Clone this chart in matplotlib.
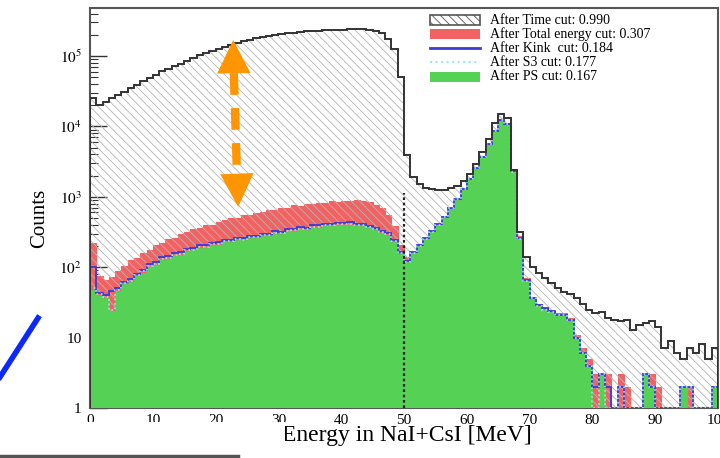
import numpy as np
import matplotlib
matplotlib.use("Agg")
import matplotlib.pyplot as plt
from matplotlib.patches import Rectangle
from matplotlib.lines import Line2D
from matplotlib.ticker import FuncFormatter, NullFormatter

plt.rcParams['font.family'] = ['Liberation Serif', 'DejaVu Serif']
plt.rcParams['mathtext.fontset'] = 'stix'
plt.rcParams['hatch.linewidth'] = 0.6

# %% Data: counts per 1 MeV bin, 0-100 MeV
bin_edges = np.arange(0, 101)

after_time = [25100, 19950, 22400, 25100, 27500, 30900, 34700, 38900, 43650, 47900,
              53700, 60300, 66100, 72400, 77600, 85100, 93300, 102300, 109600, 117500,
              125900, 134900, 144500, 154900, 162200, 169800, 177800, 186200, 195000, 199500,
              204200, 208900, 213800, 218800, 223900, 226500, 229100, 231700, 234400, 234400,
              237100, 239900, 239900, 239900, 237100, 229100, 208900, 173800, 125900, 50100,
              3980, 1905, 1514, 1349, 1288, 1259, 1259, 1318, 1445, 1698,
              2138, 2951, 4266, 6607, 11000, 15100, 13200, 2400, 316, 141,
              100, 83, 71, 59, 50, 45, 42, 36, 30, 25,
              22, 23, 19, 18, 17, 18, 13, 15, 16, 17,
              14, 7, 9, 6, 5, 7, 6, 8, 5, 7]

after_total_energy = [219, 74, 66, 72, 88, 104, 125, 135, 161, 175,
                      204, 220, 249, 258, 292, 311, 344, 357, 395, 402,
                      443, 461, 497, 506, 545, 555, 598, 610, 640, 652,
                      700, 698, 752, 750, 790, 785, 825, 820, 860, 850,
                      880, 872, 895, 868, 840, 770, 700, 545, 385, 205,
                      140, 165, 208, 260, 326, 410, 527, 693, 935, 1290,
                      1820, 2570, 3715, 5620, 8710, 12600, 11200, 2350, 275, 70,
                      38, 30, 26, 24, 22, 22, 19, 11, 7, 5,
                      3, 3, 3, 1, 3, 2, 1, 1, 3, 3,
                      2, 1, 1, 1, 2, 2, 1, 1, 1, 2]

after_kink = [102, 43, 40, 46, 50, 61, 67, 81, 90, 110,
              117, 138, 142, 158, 162, 182, 186, 205, 204, 224,
              225, 246, 245, 263, 258, 281, 276, 295, 297, 322,
              318, 345, 349, 370, 366, 395, 392, 413, 411, 423,
              422, 432, 412, 410, 384, 366, 326, 305, 247, 166,
              122, 162, 205, 257, 323, 406, 523, 689, 930, 1283,
              1812, 2560, 3700, 5600, 8670, 12250, 10930, 2290, 262, 66,
              37, 29, 26, 24, 21, 21, 18, 10, 6, 4,
              2, 3, 2, 1, 2, 1, 1, 1, 3, 2,
              1, 1, 1, 1, 2, 2, 1, 1, 1, 2]

after_s3 = [50, 41, 38, 25, 48, 59, 64, 77, 87, 105,
            112, 132, 136, 151, 155, 174, 178, 196, 196, 214,
            215, 236, 235, 252, 247, 269, 265, 282, 284, 308,
            305, 331, 335, 354, 350, 378, 376, 396, 393, 405,
            404, 414, 395, 392, 368, 350, 312, 292, 237, 157,
            120, 160, 202, 254, 320, 402, 518, 683, 920, 1270,
            1795, 2535, 3665, 5545, 8590, 12130, 10820, 2260, 255, 64,
            36, 28, 25, 23, 21, 21, 18, 10, 6, 4,
            1, 3, 1, 1, 2, 1, 1, 1, 3, 2,
            1, 1, 1, 1, 2, 2, 1, 1, 1, 2]

after_ps = [48, 40, 37, 24, 46, 57, 62, 75, 84, 102,
            109, 128, 132, 147, 150, 169, 173, 190, 190, 208,
            209, 229, 228, 245, 240, 261, 257, 274, 276, 299,
            296, 321, 325, 344, 340, 367, 365, 384, 382, 393,
            392, 402, 383, 381, 357, 340, 303, 284, 230, 152,
            118, 158, 200, 251, 316, 398, 513, 676, 912, 1259,
            1778, 2512, 3631, 5495, 8511, 12020, 10720, 2239, 251, 63,
            35, 28, 25, 23, 21, 21, 18, 10, 6, 4,
            1, 3, 1, 1, 1, 1, 1, 1, 3, 2,
            1, 1, 1, 1, 2, 1, 1, 1, 1, 2]

legend_labels = ['After Time cut: 0.990', 'After Total energy cut: 0.307',
                 'After Kink  cut: 0.184', 'After S3 cut: 0.177',
                 'After PS cut: 0.167']

cut_energy = 50       # MeV, dotted marker line
cut_line_top = 1150   # counts

arrow_top = (22.8, 1.69e5)
arrow_top_base = (22.9, 5.7e4)
arrow_bottom = (23.6, 716)
arrow_bottom_base = (23.4, 2110)

# %% Colours
c_red = '#f26262'
c_blue = '#3b3bd6'
c_cyan = '#9fe8e8'
c_green = '#55d155'
c_hatch = '#b4b4b4'
c_line = '#333333'
c_orange = '#ff9500'
hatch = '\\\\\\\\'

# %% Figure
W, H = 720, 458
fig = plt.figure(figsize=(W / 100, H / 100), dpi=100)
ax = fig.add_axes([90 / W, 50 / H, 628 / W, 400 / H])


def px(x, y):
    """pixel position (from top-left) -> figure fraction"""
    return x / W, 1 - y / H


def clip1(v):
    return np.maximum(np.asarray(v, dtype=float), 1.0)


ax.stairs(clip1(after_total_energy), bin_edges, baseline=1, fill=True,
          facecolor=c_red, edgecolor=c_red, lw=0.8, zorder=3.0)
ax.stairs(clip1(after_time), bin_edges, baseline=1, fill=True,
          facecolor='none', edgecolor=c_hatch, hatch=hatch, lw=0, zorder=3.1)
ax.stairs(clip1(after_ps), bin_edges, baseline=1, fill=True,
          facecolor=c_green, edgecolor=c_green, lw=0.5, zorder=3.2)
ax.stairs(clip1(after_kink), bin_edges, baseline=1, color=c_blue, lw=1.3,
          zorder=3.3)
ax.stairs(clip1(after_s3), bin_edges, baseline=1, color=c_cyan, lw=1.2,
          ls=':', zorder=3.35)
ax.stairs(clip1(after_time), bin_edges, baseline=1, color=c_line, lw=1.4,
          zorder=3.4)

ax.plot([cut_energy, cut_energy], [1, cut_line_top], color='#222222', lw=1.6,
        ls=(0, (1.2, 1.2)), zorder=3.5)

# orange double arrow
ax.plot([arrow_top_base[0], arrow_bottom_base[0]],
        [arrow_top_base[1], arrow_bottom_base[1]],
        color=c_orange, lw=6, ls=(0, (2.6, 1.6)), solid_capstyle='butt',
        zorder=4)
for tip, base in [(arrow_top, arrow_top_base), (arrow_bottom, arrow_bottom_base)]:
    ax.annotate('', xy=tip, xytext=base, zorder=4,
                arrowprops=dict(arrowstyle='-|>,head_length=1.0,head_width=0.5',
                                mutation_scale=24, fc=c_orange, ec=c_orange,
                                lw=0, shrinkA=0, shrinkB=0))

# %% Axes
ax.set_yscale('log')
ax.set_xlim(0, 100)
ax.set_ylim(1, 4.8e5)
ax.set_xticks(np.arange(0, 101, 10))


def ylab(v, pos):
    if v == 1:
        return '1'
    if v == 10:
        return '10'
    return '$10^{%d}$' % int(round(np.log10(v)))


ax.yaxis.set_major_formatter(FuncFormatter(ylab))
ax.yaxis.set_minor_formatter(NullFormatter())
ax.tick_params(axis='y', which='major', direction='in', length=12, width=1,
               color='#333333', labelsize=11, pad=6)
ax.tick_params(axis='y', which='minor', direction='in', length=6, width=0.8,
               color='#333333')
ax.tick_params(axis='x', which='both', length=0, labelsize=11, pad=4)
for s in ax.spines.values():
    s.set_color('#555555')
    s.set_linewidth(1.5)
    s.set_zorder(2.5)

fig.text(*px(40, 218), 'Counts', rotation=90, fontsize=15, ha='center',
         va='center')
fig.text(*px(407, 436), 'Energy in NaI+CsI [MeV]', fontsize=17, ha='center',
         va='center')

# %% Legend (drawn by hand, ROOT style, no frame)
rows = [20, 34, 48, 62, 77]
bx0, bx1, tx = 430, 480, 490
legend_styles = ['hatch', 'red', 'blue', 'cyan', 'green']
for yrow, style, label in zip(rows, legend_styles, legend_labels):
    x0, y0 = px(bx0, yrow + 5)
    w = (bx1 - bx0) / W
    h = 10 / H
    if style == 'hatch':
        fig.patches.append(Rectangle((x0, y0), w, h, transform=fig.transFigure,
                                     facecolor='white', edgecolor='#555555',
                                     hatch=hatch, lw=1.2))
    elif style == 'red':
        fig.patches.append(Rectangle((x0, y0), w, h, transform=fig.transFigure,
                                     facecolor=c_red, edgecolor=c_red, lw=0))
    elif style == 'green':
        fig.patches.append(Rectangle((x0, y0), w, h, transform=fig.transFigure,
                                     facecolor=c_green, edgecolor=c_green, lw=0))
    else:
        xa, ya = px(bx0, yrow)
        xb, _ = px(bx1, yrow)
        fig.lines.append(Line2D([xa, xb], [ya, ya], transform=fig.transFigure,
                                color=c_blue if style == 'blue' else c_cyan,
                                lw=2 if style == 'blue' else 1.5,
                                ls='-' if style == 'blue' else ':'))
    fig.text(*px(tx, yrow), label, fontsize=10, ha='left', va='center')

# %% Screenshot leftovers around the plot
fig.patches.append(Rectangle(px(0, 458), 285 / W, 36 / H,
                             transform=fig.transFigure, facecolor='white',
                             edgecolor='none', zorder=10))
fig.lines.append(Line2D([px(0, 456)[0], px(238, 456)[0]],
                        [px(0, 456)[1], px(238, 456)[1]],
                        transform=fig.transFigure, color='#555555', lw=2.5,
                        zorder=11))
fig.lines.append(Line2D([px(0, 377)[0], px(38, 318)[0]],
                        [px(0, 377)[1], px(38, 318)[1]],
                        transform=fig.transFigure, color='#0a28ff', lw=4,
                        zorder=11))

fig.savefig('out.png', dpi=100)
